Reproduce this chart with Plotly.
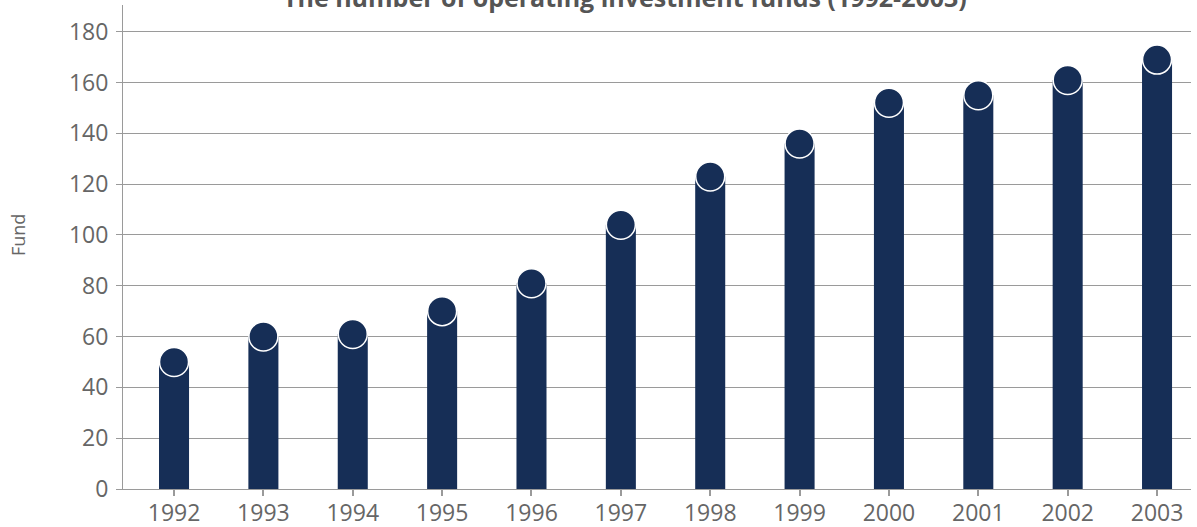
import plotly.graph_objects as go

years = ["1992", "1993", "1994", "1995", "1996", "1997", "1998", "1999", "2000", "2001", "2002", "2003"]
funds = [50, 60, 61, 70, 81, 104, 123, 136, 152, 155, 161, 169]
y_ticks = [0, 20, 40, 60, 80, 100, 120, 140, 160, 180]
title_text = "The number of operating investment funds (1992-2003)"
y_title = "Fund"

bar_color = "#162e56"
grid_color = "#9a9a9a"
text_color = "#666666"

fig = go.Figure()
fig.add_trace(go.Bar(x=years, y=funds, marker=dict(color=bar_color, line=dict(width=0)),
                     width=0.336, hoverinfo="x+y"))
fig.add_trace(go.Scatter(x=years, y=funds, mode="markers",
                         marker=dict(size=29, color=bar_color, line=dict(color="white", width=1.5)),
                         hoverinfo="skip"))

fig.update_layout(
    width=1197, height=527,
    margin=dict(l=123, r=6, t=5, b=38, autoexpand=False),
    plot_bgcolor="white", paper_bgcolor="white",
    showlegend=False,
    font=dict(family="Open Sans", color=text_color),
    annotations=[
        dict(text="<b>" + title_text + "</b>", xref="paper", yref="paper",
             x=0.470, xanchor="center", y=0.977, yanchor="bottom",
             showarrow=False, font=dict(size=25, color="#555555", family="Open Sans")),
        dict(text=y_title, xref="paper", yref="paper", x=-0.0983, y=0.5248,
             xanchor="center", yanchor="middle", textangle=-90, showarrow=False,
             font=dict(size=18, color=text_color, family="Open Sans")),
    ],
)
fig.update_xaxes(
    type="category", range=[-0.571, 11.38], automargin=False,
    showline=True, linecolor=grid_color, linewidth=1,
    ticks="outside", ticklen=6, tickcolor=grid_color, tickwidth=2,
    ticklabelstandoff=-3,
    tickfont=dict(size=23, color=text_color), showgrid=False,
)
fig.update_yaxes(
    range=[0, 190.5], tickvals=y_ticks, automargin=False,
    showline=True, linecolor=grid_color, linewidth=1,
    showgrid=True, gridcolor=grid_color, gridwidth=1,
    zeroline=False,
    ticks="outside", ticklen=6, tickcolor=grid_color,
    ticklabelstandoff=3,
    tickfont=dict(size=23, color=text_color),
)

fig.write_html("out.html", config={"displayModeBar": False},
               post_script="document.body.style.margin='0';document.body.style.overflow='hidden';")
